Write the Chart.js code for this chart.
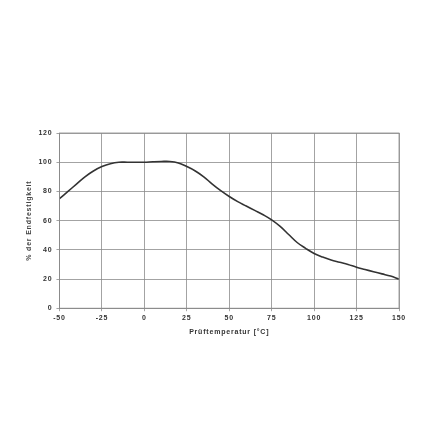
<!DOCTYPE html>
<html>
<head>
<meta charset="utf-8">
<script src="https://cdn.jsdelivr.net/npm/chart.js@4/dist/chart.umd.min.js"></script>
<style>
  html, body { margin: 0; padding: 0; background: #fff; }
  #wrap { width: 430px; height: 430px; }
</style>
</head>
<body>
<div id="wrap"><canvas id="chart" width="430" height="430"></canvas></div>
<script>
// Prüftemperatur in °C
const temps = [-50, -45, -40, -35, -30, -25, -20, -15, -10, -5, 0, 5, 10, 15, 20, 25, 30, 35, 40, 45, 50,
  55, 60, 65, 70, 75, 80, 85, 90, 95, 100, 105, 110, 115, 120, 125, 130, 135, 140, 145, 150];
// % der Endfestigkeit
const strength = [75, 80, 85, 90, 94, 97, 99, 100, 100, 100, 100, 100.3, 100.5, 100.5, 99.5, 97, 94, 90, 85, 80.5, 76.5,
  73, 70, 67, 64, 60.5, 56, 50.5, 45, 41, 37.5, 35, 33, 31.5, 30, 28, 26.5, 25, 23.5, 22, 20];
const xTicks = [-50, -25, 0, 25, 50, 75, 100, 125, 150];
const yTicks = [0, 20, 40, 60, 80, 100, 120];

const tickFont = { family: "Liberation Sans", size: 7, weight: "bold" };

new Chart(document.getElementById("chart").getContext("2d"), {
  type: "line",
  data: {
    datasets: [{
      data: temps.map((t, i) => ({ x: t, y: strength[i] })),
      borderColor: "#333333",
      borderWidth: 1.6,
      pointRadius: 0,
      tension: 0.4,
      fill: false
    }]
  },
  options: {
    responsive: false,
    animation: false,
    layout: { padding: { left: 21, right: 31, top: 133, bottom: 90 } },
    plugins: { legend: { display: false }, tooltip: { enabled: false } },
    scales: {
      x: {
        type: "linear",
        min: -50, max: 150,
        afterBuildTicks: axis => { axis.ticks = xTicks.map(v => ({ value: v })); },
        grid: { color: "#8c8c8c", lineWidth: 0.8, tickLength: 3 },
        border: { color: "#8c8c8c" },
        ticks: { color: "#333", font: tickFont, padding: 3 },
        title: { display: true, text: "Prüftemperatur [°C]", color: "#333", font: tickFont, padding: { top: 2 } }
      },
      y: {
        min: 0, max: 120,
        afterBuildTicks: axis => { axis.ticks = yTicks.map(v => ({ value: v })); },
        grid: { color: "#8c8c8c", lineWidth: 0.8, tickLength: 3 },
        border: { color: "#8c8c8c" },
        ticks: { color: "#333", font: tickFont, padding: 4 },
        title: { display: true, text: "% der Endfestigkeit", color: "#444", font: { family: "Liberation Sans", size: 7, weight: "bold" }, padding: { bottom: 1 } }
      }
    }
  },
  plugins: [{
    id: "spacing",
    beforeUpdate(chart) { chart.ctx.letterSpacing = "0.8px"; },
    beforeDraw(chart) { chart.ctx.letterSpacing = "0.8px"; }
  }, {
    id: "frame",
    afterDraw(chart) {
      const { ctx, chartArea: a } = chart;
      ctx.save();
      ctx.strokeStyle = "#8c8c8c";
      ctx.lineWidth = 0.8;
      ctx.strokeRect(a.left, a.top, a.right - a.left, a.bottom - a.top);
      ctx.restore();
    }
  }]
});
</script>
</body>
</html>
